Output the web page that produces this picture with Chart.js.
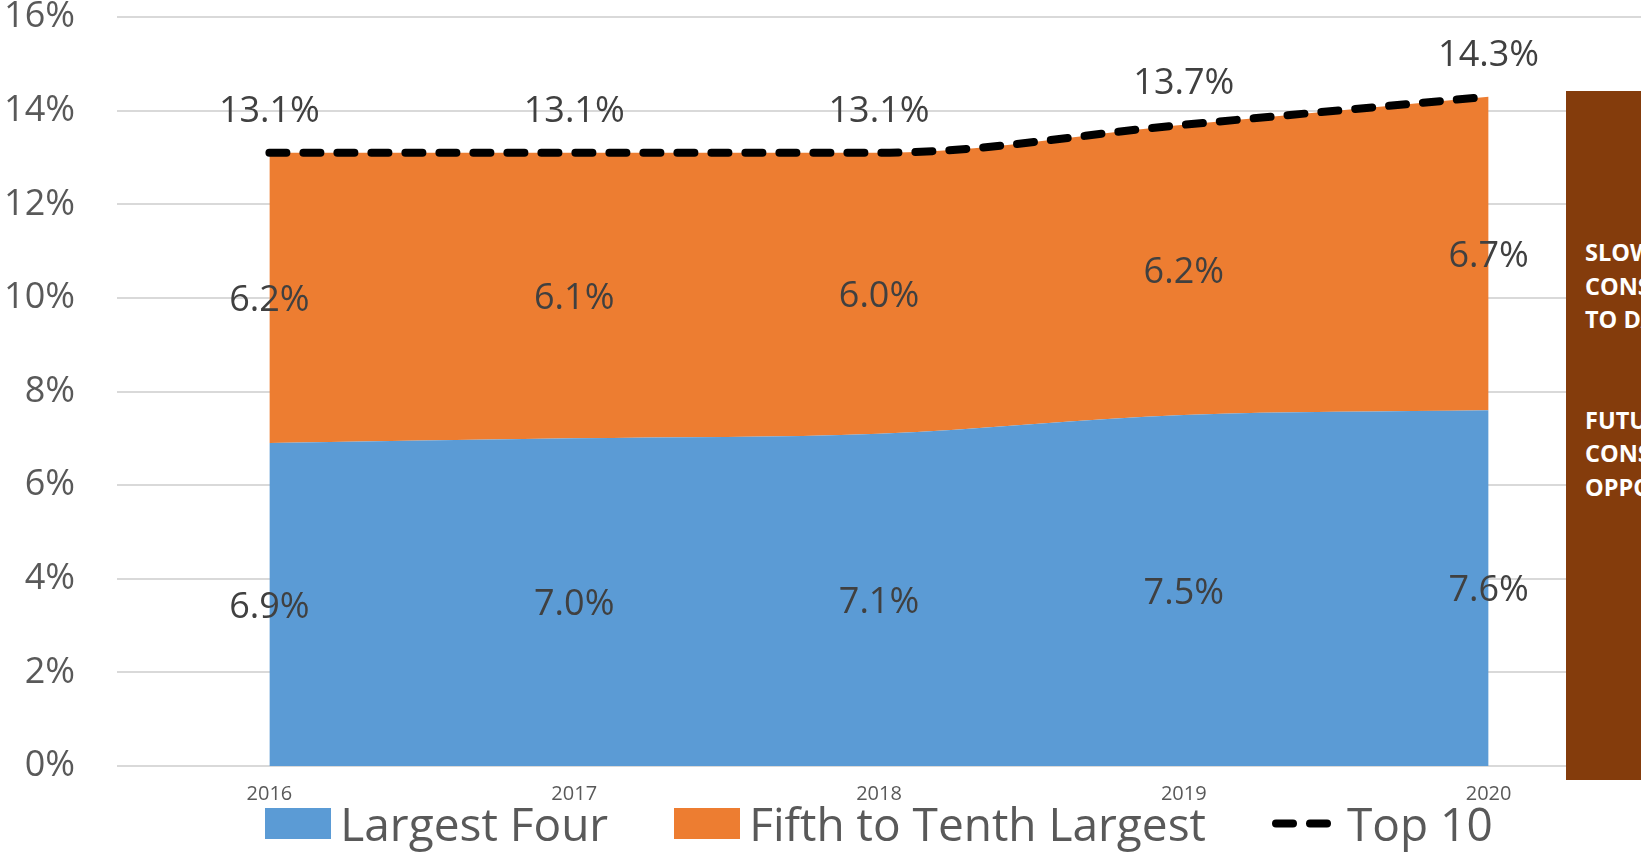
<!DOCTYPE html>
<html>
<head>
<meta charset="utf-8">
<script src="https://cdn.jsdelivr.net/npm/chart.js@4"></script>
<style>
    body { margin: 0; background: #fff; }
    #wrap { position: relative; width: 1641px; height: 854px; overflow: hidden; }
    #chartBox { position: absolute; left: 0; top: 0; width: 1641px; height: 854px; }
    #note {
        position: absolute; left: 1566px; top: 91px; width: 200px; height: 689px;
        background: #843c0c; color: #fff;
        font-family: "Open Sans", sans-serif; font-weight: bold; font-size: 23.5px;
        line-height: 33.5px; white-space: nowrap;
    }
    #note p { margin: 0; padding-left: 19px; }
    #legend {
        position: absolute; left: 117px; right: 0; top: 796px; height: 54px;
        display: flex; justify-content: center; align-items: center; gap: 66px;
        font-family: "Open Sans", sans-serif; font-size: 46px; color: #595959;
    }
    .item { display: flex; align-items: center; gap: 9px; white-space: nowrap; }
    .swatch { width: 66px; height: 31px; }
</style>
</head>
<body>
<div id="wrap">
    <div id="chartBox"><canvas id="shareChart"></canvas></div>
    <div id="legend"></div>
    <div id="note">
        <p style="margin-top: 145px">SLOWING</p>
        <p>CONSOLIDATION</p>
        <p>TO DATE</p>
        <p style="margin-top: 67px">FUTURE</p>
        <p>CONSOLIDATION</p>
        <p>OPPORTUNITIES</p>
    </div>
</div>
<script>
const years = ['2016', '2017', '2018', '2019', '2020'];
const largestFour = [6.9, 7.0, 7.1, 7.5, 7.6];
const fifthToTenth = [6.2, 6.1, 6.0, 6.2, 6.7];
const top10 = [13.1, 13.1, 13.1, 13.7, 14.3];
const yTicks = [0, 2, 4, 6, 8, 10, 12, 14, 16];

const labelFont = '36px "Open Sans"';

// value labels: middle of each stacked band, above the dashed total line
const valueLabels = {
    id: 'valueLabels',
    afterDatasetsDraw(chart) {
        const ctx = chart.ctx;
        const yScale = chart.scales.y;
        ctx.save();
        ctx.font = labelFont;
        ctx.fillStyle = '#404040';
        ctx.textAlign = 'center';
        ctx.textBaseline = 'middle';
        let base = null;
        chart.data.datasets.forEach(function(ds, di) {
            const meta = chart.getDatasetMeta(di);
            meta.data.forEach(function(pt, i) {
                const text = ds.data[i].toFixed(1) + '%';
                if (ds.stack === 'total') {
                    ctx.fillText(text, pt.x, pt.y - 41);
                } else {
                    const bottom = base ? base[i] : yScale.getPixelForValue(0);
                    ctx.fillText(text, pt.x, (pt.y + bottom) / 2 + 3);
                }
            });
            if (ds.stack !== 'total') base = meta.data.map(p => p.y);
        });
        ctx.restore();
    }
};

const config = {
    type: 'line',
    data: {
        labels: years,
        datasets: [{
            label: 'Largest Four',
            data: largestFour,
            backgroundColor: '#5b9bd5',
            borderColor: '#5b9bd5',
            borderWidth: 0,
            fill: 'origin',
            stack: 'share',
            order: 1
        }, {
            label: 'Fifth to Tenth Largest',
            data: fifthToTenth,
            backgroundColor: '#ed7d31',
            borderColor: '#ed7d31',
            borderWidth: 0,
            fill: '-1',
            stack: 'share',
            order: 1
        }, {
            label: 'Top 10',
            data: top10,
            borderColor: '#000',
            backgroundColor: '#000',
            borderWidth: 8,
            borderDash: [17, 17],
            borderCapStyle: 'round',
            fill: false,
            stack: 'total',
            order: 0
        }]
    },
    options: {
        responsive: true,
        maintainAspectRatio: false,
        animation: false,
        layout: { padding: { top: 0, right: 0, bottom: 32, left: 0 } },
        elements: {
            point: { radius: 0, hoverRadius: 0 },
            line: { cubicInterpolationMode: 'monotone' }
        },
        scales: {
            x: {
                offset: true,
                grid: { display: false, drawTicks: false },
                border: { display: false },
                ticks: {
                    color: '#595959',
                    font: { family: 'Open Sans', size: 20 },
                    padding: 16,
                    maxRotation: 0
                }
            },
            y: {
                stacked: true,
                min: 0,
                max: 16,
                afterFit: function(scale) { scale.width = 117; },
                afterBuildTicks: function(scale) {
                    scale.ticks = yTicks.map(v => ({ value: v }));
                },
                // invisible tick marks keep the labels clear of the grid
                grid: {
                    color: '#d9d9d9',
                    lineWidth: 2,
                    drawTicks: true,
                    tickLength: 42,
                    tickColor: 'rgba(0,0,0,0)'
                },
                border: { display: false },
                ticks: {
                    color: '#595959',
                    font: { family: 'Open Sans', size: 36, lineHeight: 0.95 },
                    padding: 0,
                    callback: v => v + '%'
                }
            }
        },
        plugins: {
            tooltip: { enabled: false },
            legend: { display: false }
        }
    },
    plugins: [valueLabels]
};

const shareChart = new Chart(document.getElementById('shareChart'), config);

// legend built from the chart's datasets
function buildLegend(chart) {
    const legend = document.getElementById('legend');
    chart.data.datasets.forEach(function(ds) {
        const item = document.createElement('div');
        item.className = 'item';
        let swatch;
        if (ds.fill === false) {
            swatch = document.createElement('canvas');
            swatch.width = 66;
            swatch.height = 31;
            const c = swatch.getContext('2d');
            c.strokeStyle = ds.borderColor;
            c.lineWidth = ds.borderWidth;
            c.lineCap = ds.borderCapStyle;
            c.setLineDash(ds.borderDash);
            c.beginPath();
            c.moveTo(4, 15.5);
            c.lineTo(66, 15.5);
            c.stroke();
        } else {
            swatch = document.createElement('div');
            swatch.style.background = ds.backgroundColor;
        }
        swatch.className = 'swatch';
        const text = document.createElement('span');
        text.textContent = ds.label;
        item.appendChild(swatch);
        item.appendChild(text);
        legend.appendChild(item);
    });
}
buildLegend(shareChart);
</script>
</body>
</html>
